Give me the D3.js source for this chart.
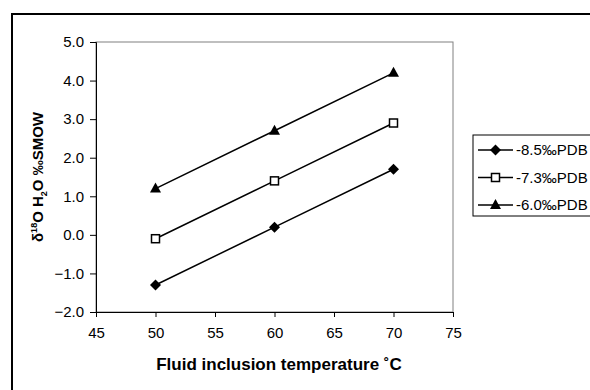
<!DOCTYPE html>
<html lang="en">
<head>
<meta charset="UTF-8">
<title>Fluid inclusion temperature vs d18O</title>
<script src="https://d3js.org/d3.v7.min.js"></script>
<style>
    body { margin: 0; background: #fff; }
    svg text { font-family: Arial, "Liberation Sans", sans-serif; fill: #000; }
    .tick text { font-size: 15px; }
</style>
</head>
<body>
<script>
// data
const temps = [50, 60, 70];
const seriesNames = ["-8.5‰PDB", "-7.3‰PDB", "-6.0‰PDB"];
const s85 = [-1.3, 0.2, 1.7];
const s73 = [-0.1, 1.4, 2.9];
const s60 = [1.2, 2.7, 4.2];
const xTicks = [45, 50, 55, 60, 65, 70, 75];
const yTicks = [-2, -1, 0, 1, 2, 3, 4, 5];

const series = [
    {name: seriesNames[0], values: s85, marker: "diamond"},
    {name: seriesNames[1], values: s73, marker: "square"},
    {name: seriesNames[2], values: s60, marker: "triangle"}
];

const W = 590, H = 390;
const plot = {left: 96, top: 42, right: 453, bottom: 312};

const svg = d3.select("body").append("svg")
    .attr("width", W).attr("height", H);

// outer frame (runs off the right and bottom edge)
svg.append("rect")
    .attr("x", 12).attr("y", 14)
    .attr("width", 620).attr("height", 420)
    .attr("fill", "none").attr("stroke", "#000").attr("stroke-width", 2);

const x = d3.scaleLinear().domain([45, 75]).range([plot.left, plot.right]);
const y = d3.scaleLinear().domain([-2, 5]).range([plot.bottom, plot.top]);

// gray plot border
svg.append("rect")
    .attr("x", plot.left).attr("y", plot.top)
    .attr("width", plot.right - plot.left).attr("height", plot.bottom - plot.top)
    .attr("fill", "none").attr("stroke", "#808080").attr("stroke-width", 1);

// axes
const xAxis = svg.append("g")
    .attr("transform", `translate(0,${plot.bottom})`)
    .call(d3.axisBottom(x).tickValues(xTicks).tickSizeOuter(0).tickSize(5).tickPadding(10));
const yAxis = svg.append("g")
    .attr("transform", `translate(${plot.left},0)`)
    .call(d3.axisLeft(y).tickValues(yTicks).tickFormat(d3.format(".1f")).tickSizeOuter(0).tickSize(6).tickPadding(6));
[xAxis, yAxis].forEach(a => {
    a.attr("font-family", null).attr("font-size", null);
    a.select(".domain").attr("stroke", "#000");
    a.selectAll(".tick line").attr("stroke", "#000");
});

// axis titles
svg.append("text")
    .attr("x", 279).attr("y", 370)
    .attr("text-anchor", "middle")
    .attr("font-size", 17).attr("font-weight", "bold")
    .text("Fluid inclusion temperature ˚C");

const yt = svg.append("text")
    .attr("transform", `translate(43,${(plot.top + plot.bottom) / 2}) rotate(-90)`)
    .attr("text-anchor", "middle")
    .attr("font-size", 15).attr("font-weight", "bold");
yt.append("tspan").text("δ");
yt.append("tspan").attr("font-size", 9).attr("dy", -6).text("18");
yt.append("tspan").attr("dy", 6).text("O H");
yt.append("tspan").attr("font-size", 9).attr("dy", 4).text("2");
yt.append("tspan").attr("dy", -4).text("O ‰SMOW");

// markers
function drawMarker(g, type, cx, cy) {
    if (type === "diamond") {
        g.append("path")
            .attr("d", `M${cx},${cy - 5.5}L${cx + 5.5},${cy}L${cx},${cy + 5.5}L${cx - 5.5},${cy}Z`)
            .attr("fill", "#000");
    } else if (type === "square") {
        g.append("rect")
            .attr("x", cx - 4).attr("y", cy - 4).attr("width", 8).attr("height", 8)
            .attr("fill", "#fff").attr("stroke", "#000").attr("stroke-width", 1.5);
    } else {
        g.append("path")
            .attr("d", `M${cx},${cy - 6}L${cx + 5.5},${cy + 4}L${cx - 5.5},${cy + 4}Z`)
            .attr("fill", "#000");
    }
}

const line = d3.line().x((d, i) => x(temps[i])).y(d => y(d));

series.forEach(s => {
    const g = svg.append("g");
    g.append("path")
        .attr("d", line(s.values))
        .attr("fill", "none").attr("stroke", "#000").attr("stroke-width", 1.5);
    s.values.forEach((v, i) => drawMarker(g, s.marker, x(temps[i]), y(v)));
});

// legend
const legend = svg.append("g");
legend.append("rect")
    .attr("x", 473).attr("y", 135).attr("width", 140).attr("height", 81)
    .attr("fill", "#fff").attr("stroke", "#000").attr("stroke-width", 1);
series.forEach((s, i) => {
    const ly = 150 + i * 27.5;
    legend.append("line")
        .attr("x1", 478).attr("x2", 513).attr("y1", ly).attr("y2", ly)
        .attr("stroke", "#000").attr("stroke-width", 1.5);
    drawMarker(legend, s.marker, 495.5, ly);
    legend.append("text")
        .attr("x", 516).attr("y", ly + 5)
        .attr("font-size", 15)
        .text(s.name);
});
</script>
</body>
</html>
